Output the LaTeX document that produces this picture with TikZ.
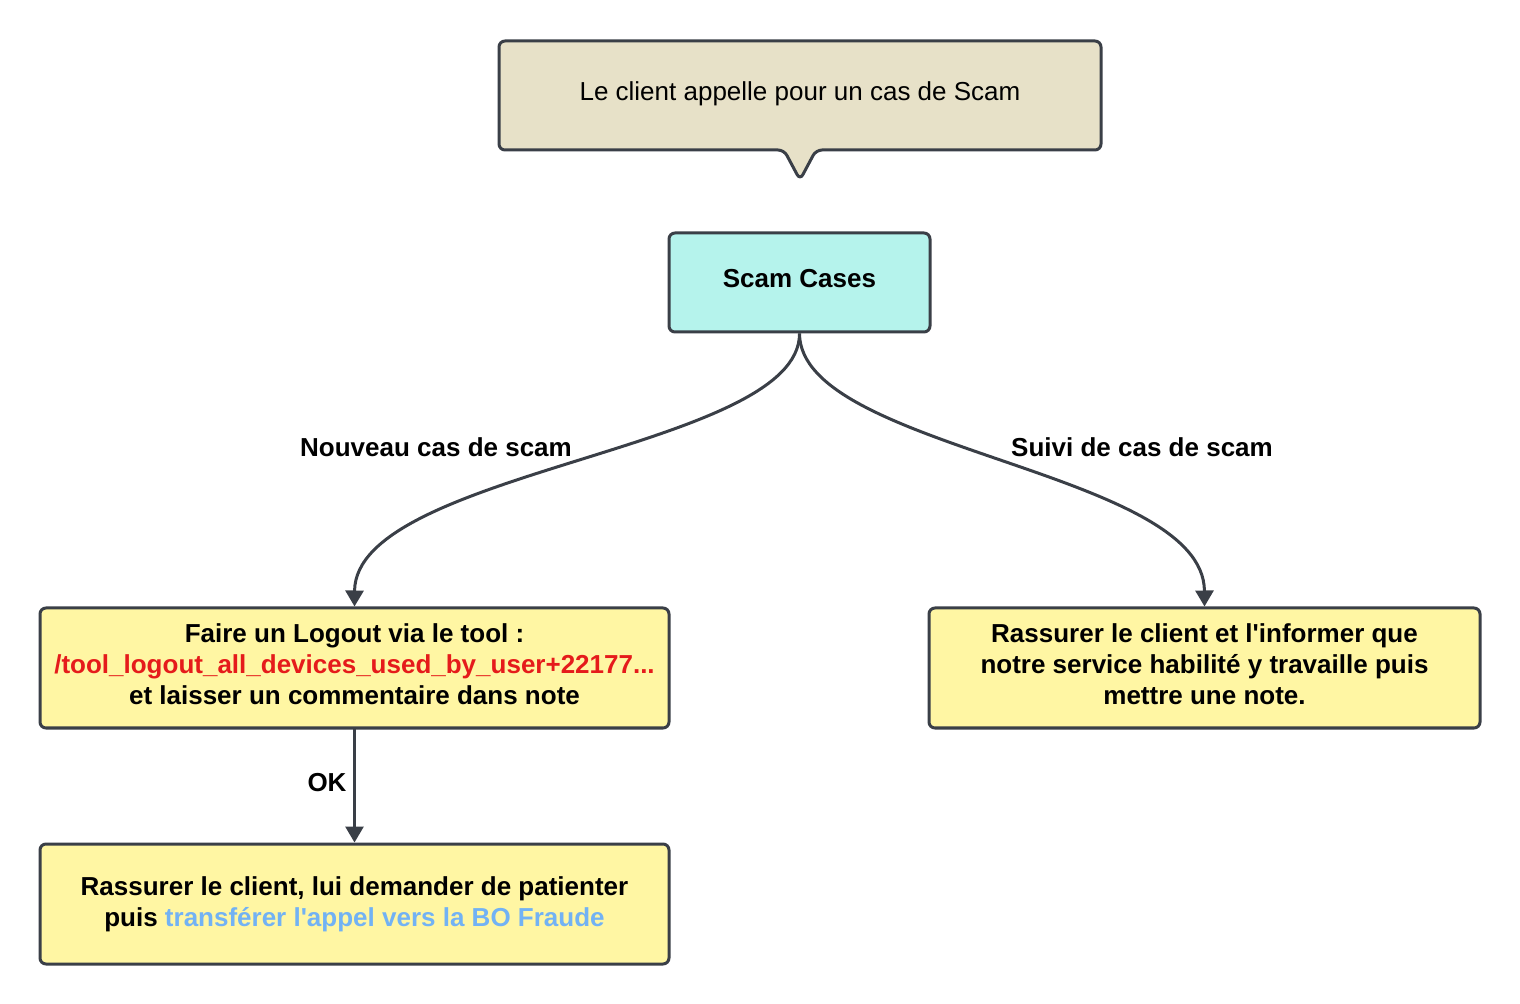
\documentclass[tikz,border=0pt]{standalone}
\usepackage{fontspec}
\setmainfont{Liberation Sans}
\usetikzlibrary{arrows.meta}
\definecolor{edgecol}{HTML}{3A3F47}
\definecolor{beige}{HTML}{E7E1C8}
\definecolor{cyanbox}{HTML}{B5F3EC}
\definecolor{yellowbox}{HTML}{FFF6A3}
\definecolor{redtxt}{HTML}{E51B1B}
\definecolor{bluetxt}{HTML}{72B2F4}
\tikzset{
  boxstyle/.style={draw=edgecol, line width=1.5pt, rounded corners=3pt, align=center, font=\fontsize{13}{15.5}\selectfont\bfseries, inner sep=0pt},
  conn/.style={draw=edgecol, line width=1.5pt, -{Triangle[width=9pt,length=8pt]}},
  lbl/.style={font=\fontsize{13}{15.5}\selectfont\bfseries, inner sep=0pt}
}
\begin{document}
\begin{tikzpicture}[x=0.5pt,y=-0.5pt]
\useasboundingbox (0,0) rectangle (1520,1004);
% callout
\draw[draw=edgecol, fill=beige, line width=1.5pt, rounded corners=3pt]
  (499,41) -- (1101,41) -- (1101,150) -- (816,150) -- (800,180) -- (784,150) -- (499,150) -- cycle;
\node[font=\fontsize{13}{15.5}\selectfont, inner sep=0pt] (callout) at (800,94) {Le client appelle pour un cas de Scam};
% boxes
\node[boxstyle, fill=cyanbox, minimum width=130.5pt, minimum height=49.5pt, text depth=4pt] (scam) at (799.5,282.5) {Scam Cases};
\node[boxstyle, fill=yellowbox, minimum width=314.5pt, minimum height=60pt, text depth=3.5pt] (logout) at (354.5,668)
  {Faire un Logout via le tool :\\\textcolor{redtxt}{/tool\_logout\_all\_devices\_used\_by\_user+22177...}\\et laisser un commentaire dans note};
\node[boxstyle, fill=yellowbox, minimum width=275.5pt, minimum height=60pt, text depth=3.5pt] (suivi) at (1204.5,668)
  {Rassurer le client et l\textquotesingle informer que\\notre service habilité y travaille puis\\mettre une note.};
\node[boxstyle, fill=yellowbox, minimum width=314.5pt, minimum height=60pt] (transfer) at (354.5,904)
  {Rassurer le client, lui demander de patienter\\puis \textcolor{bluetxt}{transférer l\textquotesingle appel vers la BO Fraude}};
% connectors
\draw[conn] (scam.south) .. controls (800,450) and (355,470) .. (logout.north);
\draw[conn] (scam.south) .. controls (800,450) and (1204,470) .. (suivi.north);
\draw[conn] (logout.south) -- (transfer.north);
% labels
\node[lbl] (l1) at (436,447) {Nouveau cas de scam};
\node[lbl] (l2) at (1142,447) {Suivi de cas de scam};
\node[lbl] (l3) at (327,783) {OK};
\end{tikzpicture}
\end{document}
